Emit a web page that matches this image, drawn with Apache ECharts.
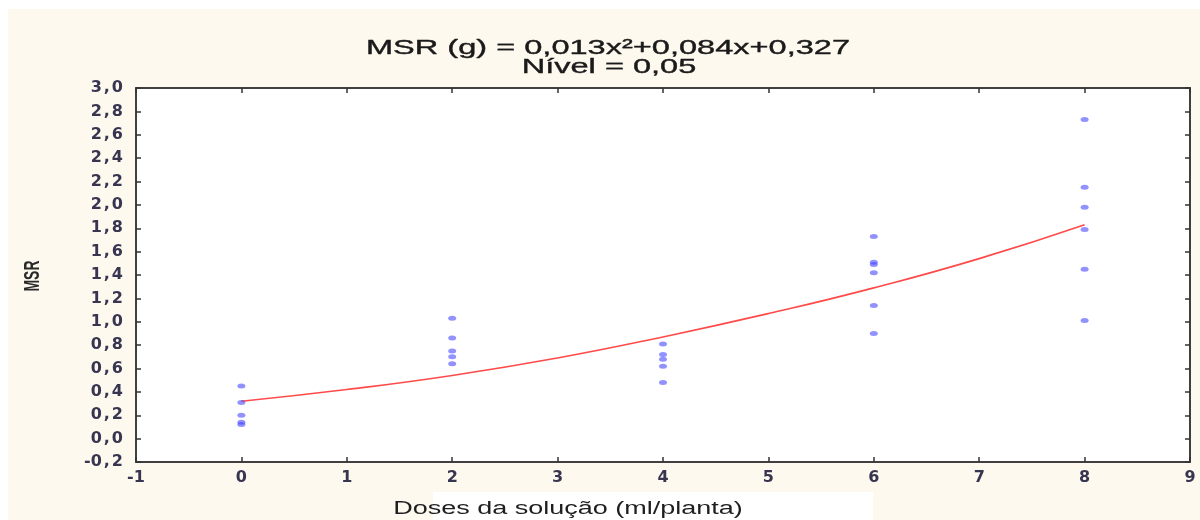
<!DOCTYPE html>
<html>
<head>
<meta charset="utf-8">
<script src="https://cdn.jsdelivr.net/npm/echarts@6/dist/echarts.min.js"></script>
<style>
  html, body { margin: 0; padding: 0; background: #ffffff; }
  #bg { position: absolute; left: 8px; top: 9px; width: 1192px; height: 511px; background: #fdf9ef; }
  #chart { position: absolute; left: 0; top: 0; width: 1200px; height: 520px; }
</style>
</head>
<body>
<div id="bg"></div>
<div id="chart"></div>
<script>
// ---- data ----
const doses = [0, 2, 4, 6, 8];
const msrDose0 = [0.45, 0.31, 0.20, 0.14, 0.12];
const msrDose2 = [1.03, 0.86, 0.75, 0.70, 0.64];
const msrDose4 = [0.81, 0.72, 0.68, 0.62, 0.48];
const msrDose6 = [1.73, 1.51, 1.49, 1.42, 1.14, 0.90];
const msrDose8 = [2.73, 2.15, 1.98, 1.79, 1.45, 1.01];
const fitX = [0, 1, 2, 3, 4, 5, 6, 7, 8];
const fitY = [0.32, 0.42, 0.54, 0.69, 0.87, 1.07, 1.29, 1.54, 1.83];
const titleLine1 = 'MSR (g) = 0,013x²+0,084x+0,327';
const titleLine2 = 'Nível = 0,05';
const xTitle = 'Doses da solução (ml/planta)';
const yTitle = 'MSR';

const msrByDose = [msrDose0, msrDose2, msrDose4, msrDose6, msrDose8];
const points = [];
doses.forEach((d, i) => msrByDose[i].forEach(v => points.push([d, v])));
const fitLine = fitX.map((x, i) => [x, fitY[i]]);

const frameLine = { show: true, onZero: false, lineStyle: { color: '#404040', width: 2 } };
const frameTick = { show: true, inside: true, length: 5, lineStyle: { color: '#333333', width: 1.5 } };
const labelColor = '#383550';
const labelFont = { fontSize: 16, fontWeight: 'bold', fontFamily: 'DejaVu Sans', color: labelColor };
const yLabel = v => {
  const s = v.toFixed(1).split('.');
  return '{d|' + s[0] + '}{c|,}{d|' + s[1] + '}';
};

const chart = echarts.init(document.getElementById('chart'), null, { renderer: 'canvas' });
chart.setOption({
  backgroundColor: 'transparent',
  animation: false,
  grid: { left: 136, top: 88, right: 10, bottom: 58, show: true, backgroundColor: '#ffffff', borderWidth: 0 },
  xAxis: [
    { type: 'value', min: -1, max: 9, interval: 1, position: 'bottom',
      axisLine: frameLine, axisTick: frameTick, splitLine: { show: false },
      axisLabel: Object.assign({ margin: 8, showMinLabel: true, showMaxLabel: true,
        formatter: v => String(v) }, labelFont) },
    { type: 'value', min: -1, max: 9, interval: 1, position: 'top',
      axisLine: frameLine, axisTick: frameTick, splitLine: { show: false }, axisLabel: { show: false } }
  ],
  yAxis: [
    { type: 'value', min: -0.2, max: 3.0, interval: 0.2, position: 'left',
      axisLine: frameLine, axisTick: frameTick, splitLine: { show: false },
      axisLabel: { margin: 13, showMinLabel: true, showMaxLabel: true, formatter: yLabel,
        rich: {
          d: labelFont,
          c: Object.assign({ padding: [0, 2, 0, 2] }, labelFont)
        } } },
    { type: 'value', min: -0.2, max: 3.0, interval: 0.2, position: 'right',
      axisLine: frameLine, axisTick: frameTick, splitLine: { show: false }, axisLabel: { show: false } }
  ],
  series: [
    { type: 'line', name: 'ajuste', data: fitLine, smooth: true, showSymbol: false, symbol: 'none',
      lineStyle: { color: '#ff4a4a', width: 1.6 }, xAxisIndex: 0, yAxisIndex: 0, z: 2 },
    { type: 'scatter', name: 'MSR', data: points, symbol: 'circle', symbolSize: [8, 5],
      itemStyle: { color: 'rgba(60,60,255,0.7)' }, xAxisIndex: 0, yAxisIndex: 0, z: 3 }
  ],
  graphic: [
    { type: 'rect', shape: { x: 433, y: 492, width: 440, height: 28 }, style: { fill: '#ffffff' }, silent: true },
    { type: 'text', x: 608, y: 48, scaleX: 1.55,
      style: { text: titleLine1, font: '21px "Liberation Sans"', fill: '#1a1a1a', stroke: '#1a1a1a', lineWidth: 0.4, textAlign: 'center', textVerticalAlign: 'middle' } },
    { type: 'text', x: 609, y: 67, scaleX: 1.55,
      style: { text: titleLine2, font: '21px "Liberation Sans"', fill: '#1a1a1a', stroke: '#1a1a1a', lineWidth: 0.4, textAlign: 'center', textVerticalAlign: 'middle' } },
    { type: 'text', x: 568, y: 509, scaleX: 1.5,
      style: { text: xTitle, font: '18px "Liberation Sans"', fill: '#1e1e1e', textAlign: 'center', textVerticalAlign: 'middle' } },
    { type: 'text', x: 33, y: 276, rotation: Math.PI / 2, scaleY: 1.6,
      style: { text: yTitle, font: 'bold 14px "Liberation Sans"', fill: '#2a2a2a', textAlign: 'center', textVerticalAlign: 'middle' } }
  ]
});
</script>
</body>
</html>
